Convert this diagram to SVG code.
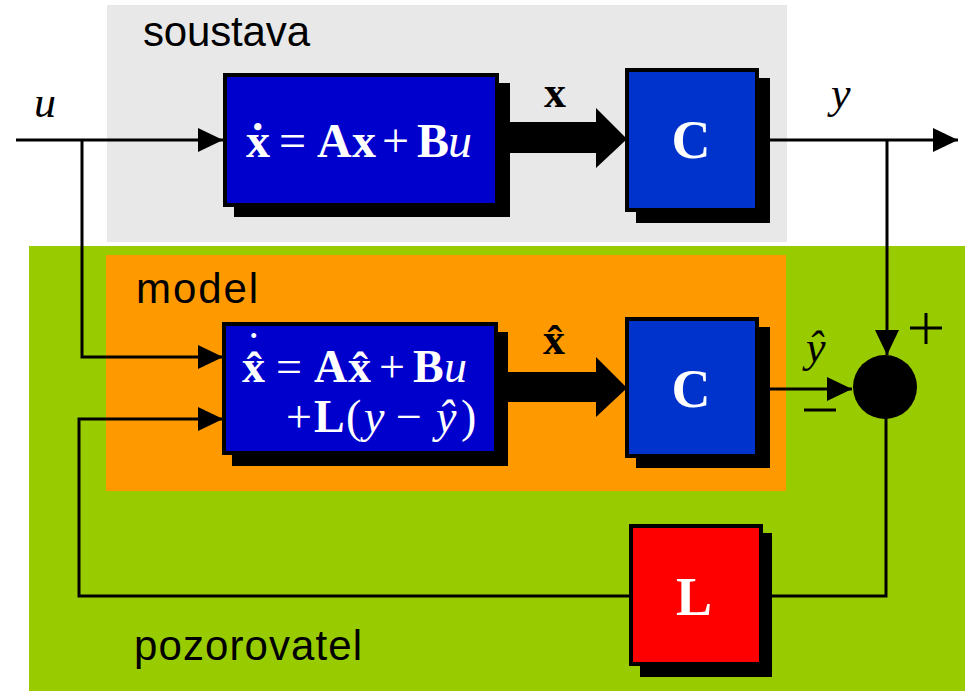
<svg xmlns="http://www.w3.org/2000/svg" width="965" height="691" viewBox="0 0 965 691">
<style>
.lbl{font-family:"Liberation Sans","Arial",sans-serif;font-size:42px;fill:#000}
.m{font-family:"Liberation Serif","Times New Roman",serif;fill:#fff}
.mb{font-family:"Liberation Serif","Times New Roman",serif;fill:#000}
.b{font-weight:bold}
.i{font-style:italic}
.w{fill:none;stroke:#000;stroke-width:3}
.sh{fill:#000}
.blk{stroke:#000;stroke-width:4}
</style>
<defs>
<marker id="ah" markerUnits="userSpaceOnUse" markerWidth="26" markerHeight="26" refX="25" refY="12" orient="auto">
<path d="M0,0 L25,12 L0,24 Z" fill="#000"/>
</marker>
</defs>
<rect width="965" height="691" fill="#fff"/>
<g id="soustava-bg">
<rect x="107" y="5" width="680" height="237" fill="#E8E8E8"/>
<text class="lbl" x="143" y="46" textLength="167">soustava</text>
</g>
<g id="pozorovatel-bg">
<rect x="29" y="246" width="936" height="445" fill="#99CC00"/>
<text class="lbl" x="134" y="660" textLength="228">pozorovatel</text>
</g>
<g id="model-bg">
<rect x="106" y="255" width="680" height="236" fill="#FF9900"/>
<text class="lbl" x="136" y="303" textLength="122">model</text>
</g>
<g id="connectors">
<path class="w" d="M16,140 H223" marker-end="url(#ah)"/>
<path class="w" d="M82,140 V357 H223" marker-end="url(#ah)"/>
<path class="w" d="M629,596 H79 V419 H223" marker-end="url(#ah)"/>
<path class="w" d="M765,140 H958" marker-end="url(#ah)"/>
<path class="w" d="M887,140 V355" marker-end="url(#ah)"/>
<path class="w" d="M765,389 H852" marker-end="url(#ah)"/>
<path class="w" d="M886,410 V596 H768"/>
<polygon points="505,122 596,122 596,108 627,139 596,168 596,153 505,153" fill="#000"/>
<polygon points="505,372 596,372 596,357 627,388 596,417 596,402 505,402" fill="#000"/>
<text class="mb b" x="555" y="107" font-size="44" text-anchor="middle">x</text>
<text class="mb b" x="554" y="354" font-size="44" text-anchor="middle">x̂</text>
<text class="mb i" x="34" y="117" font-size="44">u</text>
<text class="mb i" x="831" y="108" font-size="44">y</text>
<text class="mb i" x="806" y="362" font-size="44">ŷ</text>
<path d="M804,410 H836 M910,328 H942 M926,313 V344" stroke="#000" stroke-width="3" fill="none"/>
</g>
<g id="sum">
<circle cx="885" cy="387" r="32" fill="#000"/>
</g>
<g id="plant">
<rect class="sh" x="234" y="83" width="276" height="134"/>
<rect class="blk" x="225" y="75" width="272" height="130" fill="#0000CC"/>
<text class="m b" x="246" y="157" font-size="48">ẋ</text>
<text class="m" x="279" y="157" font-size="48">=</text>
<text class="m b" x="317" y="157" font-size="48">A</text>
<text class="m b" x="352" y="157" font-size="48">x</text>
<text class="m" x="382" y="157" font-size="48">+</text>
<text class="m b" x="417" y="157" font-size="48">B</text>
<text class="m i" x="448" y="157" font-size="48">u</text>
</g>
<g id="C1">
<rect class="sh" x="636" y="78" width="134" height="145"/>
<rect class="blk" x="627" y="70" width="130" height="140" fill="#0033CC"/>
<text class="m b" x="691" y="158" font-size="54" text-anchor="middle">C</text>
</g>
<g id="model">
<rect class="sh" x="232" y="332" width="276" height="134"/>
<rect class="blk" x="224" y="324" width="272" height="129" fill="#0000CC"/>
<text class="m b" x="242" y="382" font-size="46">x̂<tspan x="246" y="364" font-weight="normal">˙</tspan></text>
<text class="m" x="276" y="382" font-size="46">=</text>
<text class="m b" x="314" y="382" font-size="46">A</text>
<text class="m b" x="348" y="382" font-size="46">x̂</text>
<text class="m" x="379" y="382" font-size="46">+</text>
<text class="m b" x="413" y="382" font-size="46">B</text>
<text class="m i" x="444" y="382" font-size="46">u</text>
<text class="m" x="286" y="432" font-size="46">+</text>
<text class="m b" x="314" y="432" font-size="46">L</text>
<text class="m" x="346" y="432" font-size="46">(</text>
<text class="m i" x="364" y="432" font-size="46">y</text>
<text class="m" x="396" y="432" font-size="46">−</text>
<text class="m i" x="436" y="432" font-size="46">ŷ</text>
<text class="m" x="461" y="432" font-size="46">)</text>
</g>
<g id="C2">
<rect class="sh" x="636" y="327" width="134" height="141"/>
<rect class="blk" x="627" y="319" width="130" height="137" fill="#0033CC"/>
<text class="m b" x="691" y="407" font-size="54" text-anchor="middle">C</text>
</g>
<g id="L">
<rect class="sh" x="640" y="533" width="132" height="144"/>
<rect class="blk" x="631" y="526" width="130" height="138" fill="#FF0000"/>
<text class="m b" x="694" y="615" font-size="54" text-anchor="middle">L</text>
</g>
</svg>
